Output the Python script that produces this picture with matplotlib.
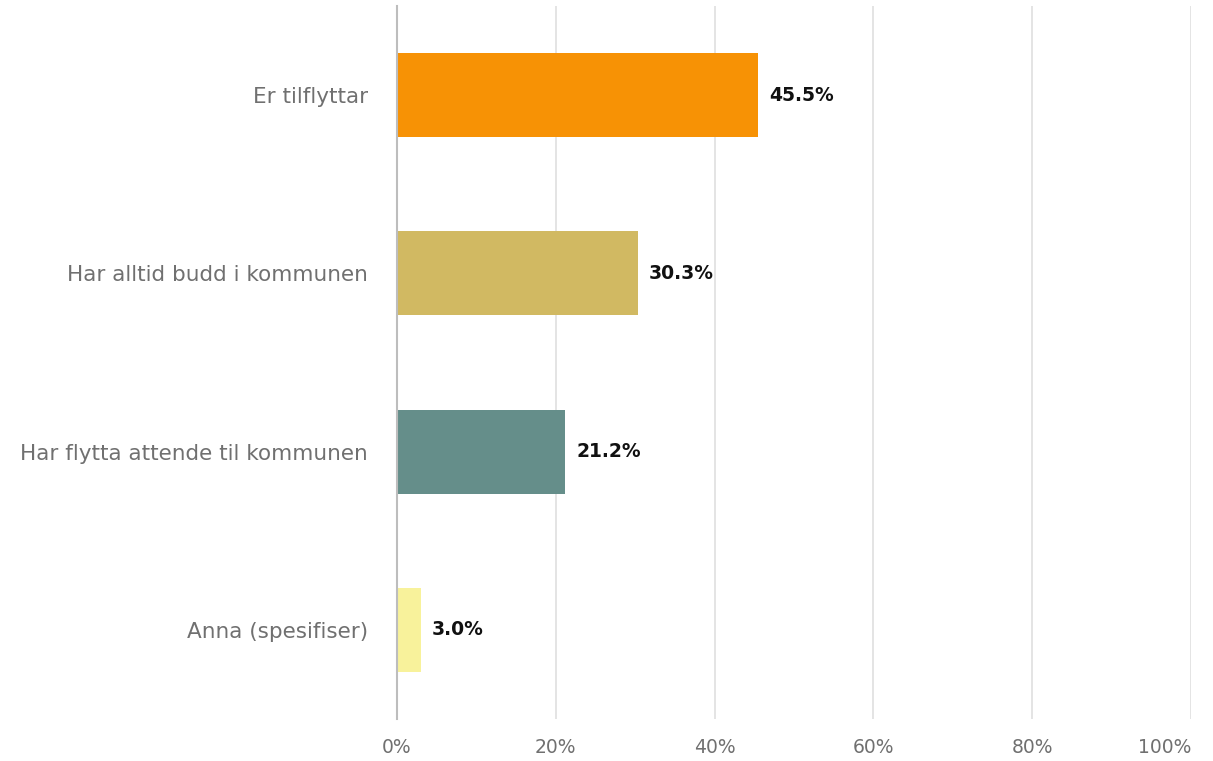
import matplotlib.pyplot as plt
from matplotlib.ticker import FuncFormatter

categories = ["Er tilflyttar", "Har alltid budd i kommunen",
              "Har flytta attende til kommunen", "Anna (spesifiser)"]
values = [45.5, 30.3, 21.2, 3.0]
colors = ["#F79205", "#D1B962", "#658E8A", "#F8F29B"]
x_ticks = [0, 20, 40, 60, 80, 100]

fig = plt.figure(figsize=(12.13, 7.61), dpi=100)
ax = fig.add_axes([397 / 1213, 1 - 719 / 761, (1191 - 397) / 1213, (719 - 6) / 761])

y = list(range(len(categories)))
bars = ax.barh(y, values, height=0.47, color=colors, zorder=3)
ax.set_ylim(len(categories) - 0.5, -0.5)
ax.set_xlim(0, 100)

for bar, v in zip(bars, values):
    ax.annotate(f"{v:.1f}%", (bar.get_width(), bar.get_y() + bar.get_height() / 2),
                xytext=(8, 0), textcoords="offset points", va="center", ha="left",
                fontsize=13.5, fontweight="semibold", color="#111111")

ax.set_yticks(y)
ax.set_yticklabels(categories)
ax.set_xticks(x_ticks)
ax.xaxis.set_major_formatter(FuncFormatter(lambda v, p: f"{v:.0f}%"))
ax.tick_params(axis="both", length=0, labelcolor="#707070")
ax.tick_params(axis="y", pad=21, labelsize=15.5)
ax.tick_params(axis="x", pad=14, labelsize=13.5)
# keep the last tick label inside the figure
ax.get_xticklabels()[-1].set_horizontalalignment("right")

ax.grid(axis="x", color="#E2E2E2", linewidth=1.3, zorder=0)
for s in ["top", "right", "bottom"]:
    ax.spines[s].set_visible(False)
ax.spines["left"].set_color("#BDBDBD")
ax.spines["left"].set_linewidth(1.5)
ax.spines["left"].set_zorder(4)

fig.savefig("out.png", dpi=100)
